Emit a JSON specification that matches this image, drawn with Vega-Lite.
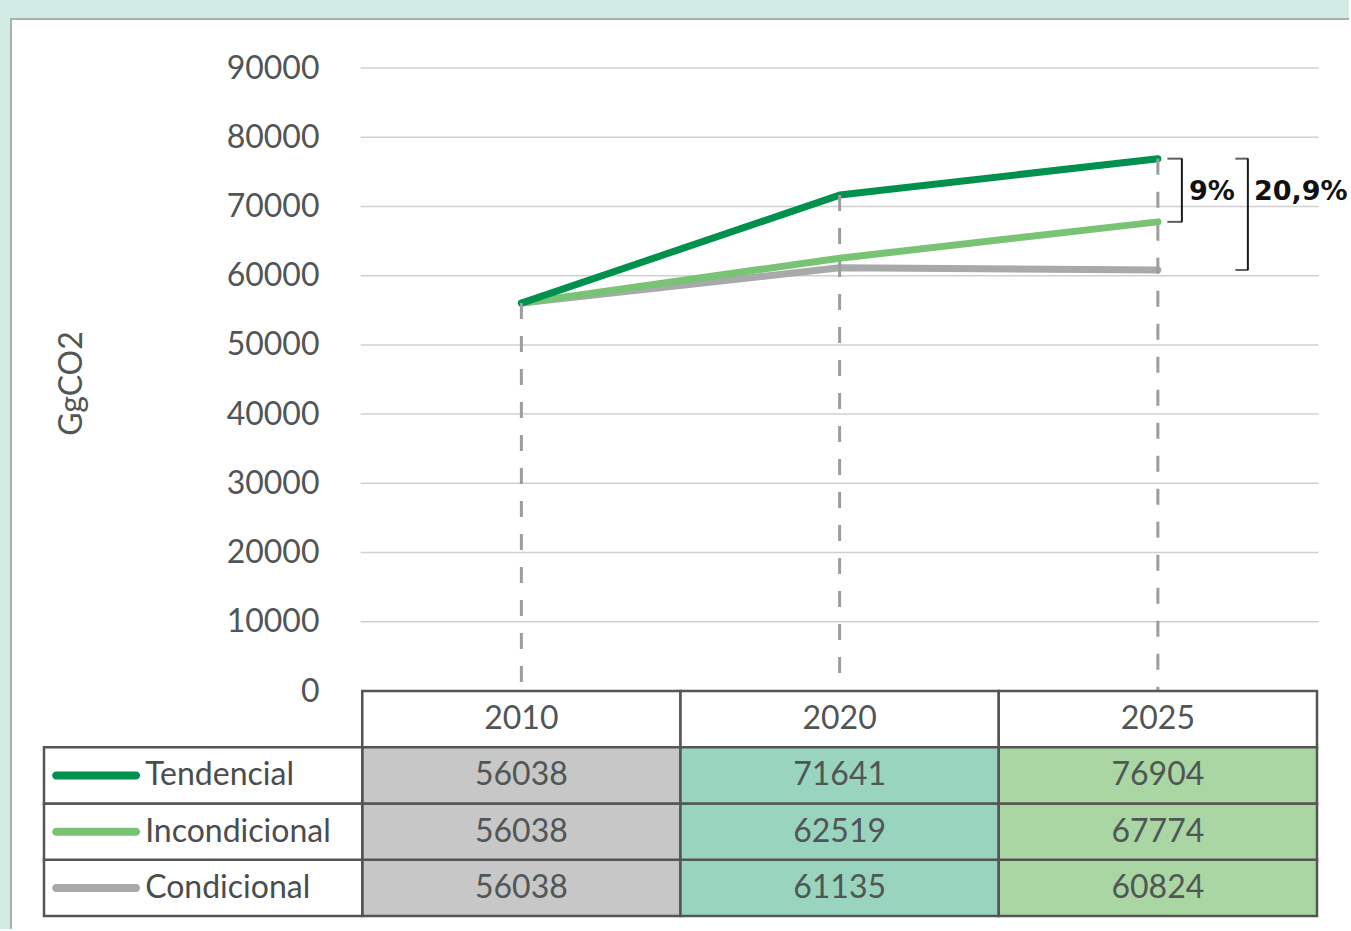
{
  "$schema": "https://vega.github.io/schema/vega-lite/v6.json",
  "background": "#d3ebe5",
  "padding": {"left": 11, "top": 19, "right": -3, "bottom": -3},
  "autosize": {"type": "pad"},
  "config": {"view": {"fill": "white", "stroke": "#a9b0ad", "strokeWidth": 2}, "font": "Lato"},
  "datasets": {
    "series": [
      {"serie": "Condicional", "year": "2010", "value": 56038},
      {"serie": "Condicional", "year": "2020", "value": 61135},
      {"serie": "Condicional", "year": "2025", "value": 60824},
      {"serie": "Incondicional", "year": "2010", "value": 56038},
      {"serie": "Incondicional", "year": "2020", "value": 62519},
      {"serie": "Incondicional", "year": "2025", "value": 67774},
      {"serie": "Tendencial", "year": "2010", "value": 56038},
      {"serie": "Tendencial", "year": "2020", "value": 71641},
      {"serie": "Tendencial", "year": "2025", "value": 76904}
    ],
    "notes": [
      {"label": "9%", "top": 76904, "bottom": 67774},
      {"label": "20,9%", "top": 76904, "bottom": 60824}
    ],
    "grid": [
      {"g": 10000}, {"g": 20000}, {"g": 30000}, {"g": 40000}, {"g": 50000},
      {"g": 60000}, {"g": 70000}, {"g": 80000}, {"g": 90000}
    ]
  },
  "width": 1341,
  "height": 913,
  "resolve": {"scale": {"y": "independent"}},
  "layer": [
    {
      "layer": [
        {
          "data": {"name": "grid"},
          "mark": {"type": "tick", "orient": "horizontal", "size": 958, "thickness": 1.5, "color": "#bcbcbc"},
          "encoding": {
            "x": {"datum": "2020", "type": "nominal",
              "scale": {"type": "band", "domain": ["L", "2010", "2020", "2025"], "paddingInner": 0, "paddingOuter": 0, "range": [33, 1306]},
              "axis": null},
            "y": {"field": "g", "type": "quantitative",
              "scale": {"domain": [0, 90000], "range": [672, 49], "nice": false, "zero": true},
              "axis": {
                "values": [0, 10000, 20000, 30000, 40000, 50000, 60000, 70000, 80000, 90000],
                "orient": "left", "offset": -308, "ticks": false, "domain": false, "grid": false,
                "labelPadding": 0, "labelFont": "Lato", "labelFontSize": 32, "labelColor": "#505555",
                "labelFlush": false, "labelOverlap": false, "format": "d",
                "title": "GgCO2", "titleFont": "Lato", "titleFontSize": 32, "titleFontWeight": "normal",
                "titleColor": "#505555", "titleAngle": 270, "titleX": -248, "titleY": 364,
                "titleBaseline": "middle", "titleAlign": "center"
              }}
          }
        },
        {
          "data": {"name": "series"},
          "mark": {"type": "line", "strokeWidth": 7, "strokeCap": "round", "strokeJoin": "round"},
          "encoding": {
            "x": {"field": "year", "type": "nominal"},
            "y": {"field": "value", "type": "quantitative"},
            "color": {"field": "serie", "type": "nominal",
              "scale": {"domain": ["Tendencial", "Incondicional", "Condicional"], "range": ["#00914f", "#79c375", "#a7a9ab"]},
              "legend": null}
          }
        },
        {
          "data": {"name": "series"},
          "transform": [{"aggregate": [{"op": "max", "field": "value", "as": "top"}], "groupby": ["year"]}],
          "mark": {"type": "rule", "color": "#9d9d9d", "strokeWidth": 3, "strokeDash": [16, 17]},
          "encoding": {
            "x": {"field": "year", "type": "nominal"},
            "y": {"field": "top", "type": "quantitative"},
            "y2": {"datum": 0}
          }
        },
        {
          "data": {"name": "notes"},
          "transform": [{"filter": "datum.label == '9%'"}],
          "mark": {"type": "rule", "xOffset": 24, "strokeWidth": 2, "color": "#1a1a1a"},
          "encoding": {
            "x": {"datum": "2025", "type": "nominal"},
            "y": {"field": "top", "type": "quantitative"},
            "y2": {"field": "bottom"}
          }
        },
        {
          "data": {"name": "notes"},
          "transform": [{"filter": "datum.label == '9%'"}],
          "mark": {"type": "tick", "orient": "horizontal", "xOffset": 17, "size": 15, "thickness": 2, "color": "#1a1a1a"},
          "encoding": {
            "x": {"datum": "2025", "type": "nominal"},
            "y": {"field": "top", "type": "quantitative"}
          }
        },
        {
          "data": {"name": "notes"},
          "transform": [{"filter": "datum.label == '9%'"}],
          "mark": {"type": "tick", "orient": "horizontal", "xOffset": 17, "size": 15, "thickness": 2, "color": "#1a1a1a"},
          "encoding": {
            "x": {"datum": "2025", "type": "nominal"},
            "y": {"field": "bottom", "type": "quantitative"}
          }
        },
        {
          "data": {"name": "notes"},
          "transform": [{"filter": "datum.label == '9%'"}],
          "mark": {"type": "text", "xOffset": 31, "yOffset": 33, "align": "left", "baseline": "middle",
            "font": "DejaVu Sans", "fontWeight": "bold", "fontSize": 27, "color": "#111111"},
          "encoding": {
            "x": {"datum": "2025", "type": "nominal"},
            "y": {"field": "top", "type": "quantitative"},
            "text": {"field": "label"}
          }
        },
        {
          "data": {"name": "notes"},
          "transform": [{"filter": "datum.label == '20,9%'"}],
          "mark": {"type": "rule", "xOffset": 90, "strokeWidth": 2, "color": "#1a1a1a"},
          "encoding": {
            "x": {"datum": "2025", "type": "nominal"},
            "y": {"field": "top", "type": "quantitative"},
            "y2": {"field": "bottom"}
          }
        },
        {
          "data": {"name": "notes"},
          "transform": [{"filter": "datum.label == '20,9%'"}],
          "mark": {"type": "tick", "orient": "horizontal", "xOffset": 84, "size": 13, "thickness": 2, "color": "#1a1a1a"},
          "encoding": {
            "x": {"datum": "2025", "type": "nominal"},
            "y": {"field": "top", "type": "quantitative"}
          }
        },
        {
          "data": {"name": "notes"},
          "transform": [{"filter": "datum.label == '20,9%'"}],
          "mark": {"type": "tick", "orient": "horizontal", "xOffset": 84, "size": 13, "thickness": 2, "color": "#1a1a1a"},
          "encoding": {
            "x": {"datum": "2025", "type": "nominal"},
            "y": {"field": "bottom", "type": "quantitative"}
          }
        },
        {
          "data": {"name": "notes"},
          "transform": [{"filter": "datum.label == '20,9%'"}],
          "mark": {"type": "text", "xOffset": 96, "yOffset": 33, "align": "left", "baseline": "middle",
            "font": "DejaVu Sans", "fontWeight": "bold", "fontSize": 27, "color": "#111111"},
          "encoding": {
            "x": {"datum": "2025", "type": "nominal"},
            "y": {"field": "top", "type": "quantitative"},
            "text": {"field": "label"}
          }
        }
      ]
    },
    {
      "layer": [
        {
          "data": {"name": "series"},
          "transform": [{"aggregate": [{"op": "count", "as": "n"}], "groupby": ["year"]}],
          "mark": {"type": "rect", "fill": "white", "stroke": "#555555", "strokeWidth": 2.5},
          "encoding": {
            "x": {"field": "year", "type": "nominal"},
            "y": {"datum": "hdr", "type": "nominal",
              "scale": {"type": "band", "domain": ["hdr", "Tendencial", "Incondicional", "Condicional"],
                "paddingInner": 0, "paddingOuter": 0, "range": [672, 897]},
              "axis": null}
          }
        },
        {
          "data": {"name": "series"},
          "mark": {"type": "rect", "stroke": "#555555", "strokeWidth": 2.5},
          "encoding": {
            "x": {"field": "year", "type": "nominal"},
            "y": {"field": "serie", "type": "nominal"},
            "fill": {"field": "year", "type": "nominal",
              "scale": {"domain": ["2010", "2020", "2025"], "range": ["#c6c7c6", "#99d4bf", "#a9d6a3"]},
              "legend": null}
          }
        },
        {
          "data": {"name": "series"},
          "transform": [{"aggregate": [{"op": "count", "as": "n"}], "groupby": ["serie"]}],
          "mark": {"type": "rect", "fill": "white", "stroke": "#555555", "strokeWidth": 2.5},
          "encoding": {
            "x": {"datum": "L", "type": "nominal"},
            "y": {"field": "serie", "type": "nominal"}
          }
        },
        {
          "data": {"name": "series"},
          "mark": {"type": "text", "font": "Lato", "fontSize": 32, "color": "#505555", "baseline": "middle", "align": "center"},
          "encoding": {
            "x": {"field": "year", "type": "nominal"},
            "y": {"field": "serie", "type": "nominal"},
            "text": {"field": "value", "type": "quantitative", "format": "d"}
          }
        },
        {
          "data": {"name": "series"},
          "transform": [{"aggregate": [{"op": "count", "as": "n"}], "groupby": ["year"]}],
          "mark": {"type": "text", "font": "Lato", "fontSize": 32, "color": "#505555", "baseline": "middle", "align": "center"},
          "encoding": {
            "x": {"field": "year", "type": "nominal"},
            "y": {"datum": "hdr", "type": "nominal"},
            "text": {"field": "year", "type": "nominal"}
          }
        },
        {
          "data": {"name": "series"},
          "transform": [{"aggregate": [{"op": "count", "as": "n"}], "groupby": ["serie"]}],
          "mark": {"type": "rect", "width": 88, "height": 8, "cornerRadius": 4, "xOffset": -107},
          "encoding": {
            "x": {"datum": "L", "type": "nominal"},
            "y": {"field": "serie", "type": "nominal"},
            "color": {"field": "serie", "type": "nominal", "legend": null}
          }
        },
        {
          "data": {"name": "series"},
          "transform": [{"aggregate": [{"op": "count", "as": "n"}], "groupby": ["serie"]}],
          "mark": {"type": "text", "font": "Lato", "fontSize": 32, "color": "#4a4d4d", "baseline": "middle", "align": "left", "xOffset": -58},
          "encoding": {
            "x": {"datum": "L", "type": "nominal"},
            "y": {"field": "serie", "type": "nominal"},
            "text": {"field": "serie", "type": "nominal"}
          }
        }
      ]
    }
  ]
}
